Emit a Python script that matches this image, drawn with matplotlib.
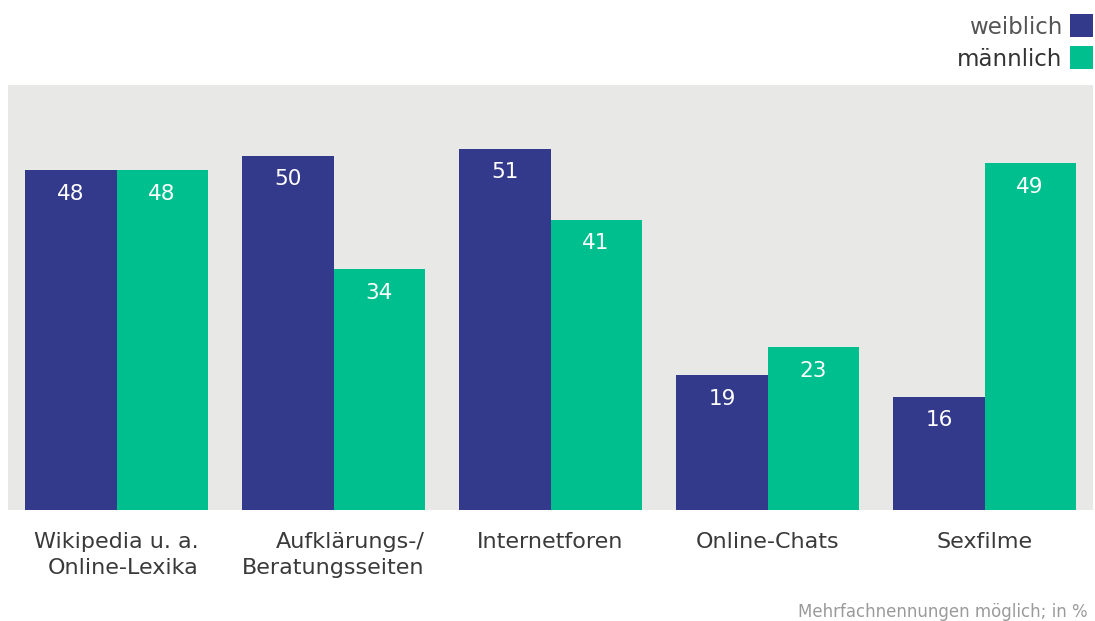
import matplotlib
matplotlib.use("Agg")
import matplotlib.pyplot as plt
import numpy as np
from matplotlib.patches import Rectangle

categories = ["Wikipedia u. a.\nOnline-Lexika", "Aufklärungs-/\nBeratungsseiten",
              "Internetforen", "Online-Chats", "Sexfilme"]
weiblich = [48, 50, 51, 19, 16]
maennlich = [48, 34, 41, 23, 49]
series_names = ["weiblich", "männlich"]
footnote = "Mehrfachnennungen möglich; in %"

c_w = "#333a8c"
c_m = "#00bf8f"
bg = "#e8e8e6"

W, H = 1095, 621
fig = plt.figure(figsize=(W / 100, H / 100), dpi=100)
ax = fig.add_axes([8 / W, (H - 510) / H, (1093 - 8) / W, 425 / H])
ax.set_facecolor(bg)
for s in ax.spines.values():
    s.set_visible(False)

x = np.arange(len(categories))
bw = 0.42
b1 = ax.bar(x - bw / 2, weiblich, bw, color=c_w, linewidth=0)
b2 = ax.bar(x + bw / 2, maennlich, bw, color=c_m, linewidth=0)
ax.set_xlim(-0.5, 4.5)
ax.set_ylim(0, 60)
ax.set_yticks([])
ax.set_xticks([])

for bars, vals in ((b1, weiblich), (b2, maennlich)):
    for r, v in zip(bars, vals):
        ax.annotate(str(v), (r.get_x() + r.get_width() / 2, v), xytext=(0, -17),
                    textcoords="offset points", ha="center", va="center",
                    color="white", fontsize=15.5)

for xi, lab in zip(x, categories):
    ax.annotate(lab, (xi, 0), xytext=(0, -15.5), textcoords="offset points",
                ha="center", va="top", multialignment="right",
                color="#3a3a3a", fontsize=16, linespacing=1.42)

# legend
fig.text(1062 / W, 1 - 27 / H, series_names[0], ha="right", va="center",
         fontsize=16.5, color="#555555")
fig.text(1062 / W, 1 - 59 / H, series_names[1], ha="right", va="center",
         fontsize=16.5, color="#333333")
fig.add_artist(Rectangle((1070 / W, 1 - 37 / H), 23 / W, 23 / H,
                         transform=fig.transFigure, color=c_w, lw=0))
fig.add_artist(Rectangle((1070 / W, 1 - 69 / H), 23 / W, 23 / H,
                         transform=fig.transFigure, color=c_m, lw=0))

fig.text(1088 / W, 1 - 612 / H, footnote, ha="right", va="center",
         fontsize=12, color="#9a9a9a")

fig.savefig("out.png", dpi=100)
